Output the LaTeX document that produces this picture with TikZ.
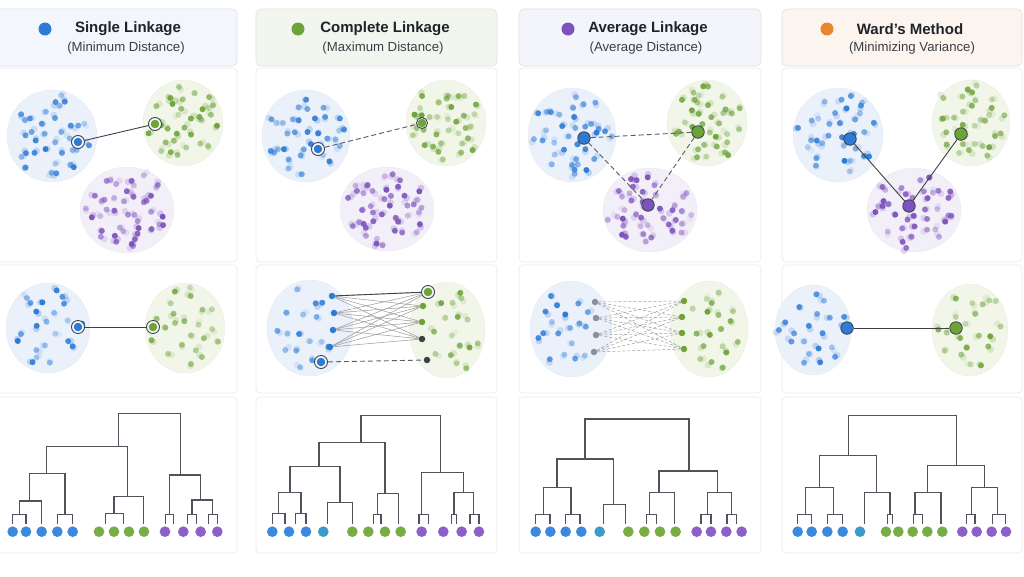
\documentclass[tikz,border=0pt]{standalone}
\usepackage{fontspec}
\setmainfont{Liberation Sans}
\definecolor{cblue}{HTML}{2E7BD6}
\definecolor{cgreen}{HTML}{6EA33A}
\definecolor{cpurple}{HTML}{7D52BE}
\definecolor{corange}{HTML}{E9852C}
\definecolor{dk}{HTML}{3C4148}
\definecolor{tblue}{HTML}{EAF1FB}
\definecolor{tgreen}{HTML}{F1F6E9}
\definecolor{tpurple}{HTML}{F3EFF9}
\definecolor{hblue}{HTML}{F3F6FC}
\definecolor{hgreen}{HTML}{F3F6EF}
\definecolor{hpurple}{HTML}{F4F4FB}
\definecolor{horange}{HTML}{FCF5EF}
\definecolor{pborder}{HTML}{E6E9ED}
\definecolor{hborder}{HTML}{DCE2EA}
\definecolor{lblue}{HTML}{3A89DE}
\definecolor{lteal}{HTML}{3A9BC8}
\definecolor{lgreen}{HTML}{78AD45}
\definecolor{lpurple}{HTML}{8D5FC9}
\definecolor{gpt}{HTML}{8A9099}
\definecolor{ttl}{HTML}{1F2328}
\definecolor{sub}{HTML}{3A3F45}
\newcommand\clusterpts[7]{%
  \pgfmathsetseed{#7}%
  \foreach \k in {1,...,#6}{%
    \pgfmathsetmacro\ang{\k*137.508+#7*23+50*rnd}%
    \pgfmathsetmacro\rr{0.9*sqrt((\k-0.4)/#6)+0.08*(rnd-0.5)}%
    \pgfmathsetmacro\op{0.3+0.7*rnd}%
    \pgfmathsetmacro\opb{0.28*\op}%
    \pgfmathsetmacro\dx{7*rnd-3.5}%
    \pgfmathsetmacro\dy{7*rnd-3.5}%
    \pgfmathsetmacro\px{#1+#3*\rr*cos(\ang)}%
    \pgfmathsetmacro\py{#2+#4*\rr*sin(\ang)}%
    \fill[#5, opacity=\opb] (\px+\dx,\py+\dy) circle[radius=3.4];%
    \fill[#5, opacity=\op] (\px,\py) circle[radius=3.0];%
  }%
}
\newcommand\blob[5]{\fill[#5] (#1,#2) ellipse[x radius=#3, y radius=#4];
  \draw[#5!70!gray!60, line width=0.4pt, opacity=0.5] (#1,#2) ellipse[x radius=#3, y radius=#4];}
\def\LL{386}
\newcommand\dbar[5]{\draw[dend] (#1,#2) -- (#1,#5) -- (#3,#5) -- (#3,#4);}
\newcommand\leaves[2]{\foreach \q in {#1}{\fill[#2] (\q,410) circle[radius=16];}}
\tikzset{
  panel/.style={draw=pborder, line width=0.6pt, fill=white, rounded corners=4pt},
  hbox/.style={draw=hborder, line width=0.6pt, fill=#1, rounded corners=5pt},
  keyring/.style={circle, draw=dk, line width=0.9pt, fill=white, minimum size=13pt, inner sep=0pt,
     path picture={\fill[#1] (path picture bounding box.center) circle[radius=4.3pt];}},
  keybig/.style={circle, draw=dk, line width=0.8pt, fill=#1, minimum size=12.5pt, inner sep=0pt},
  dotpt/.style={circle, fill=#1, minimum size=6.5pt, inner sep=0pt},
  link/.style={draw=dk, line width=0.9pt},
  dlink/.style={draw=dk!85, line width=0.9pt, dash pattern=on 5pt off 3pt},
  thin/.style={draw=black!40, line width=0.5pt},
  dthin/.style={draw=black!38, line width=0.5pt, dash pattern=on 3pt off 2pt},
  dend/.style={draw=dk!90, line width=1.2pt},
  ttext/.style={font=\fontsize{15}{18}\selectfont\bfseries, text=ttl},
  stext/.style={font=\fontsize{13.2}{16}\selectfont, text=sub},
}
\begin{document}
\begin{tikzpicture}[x=1pt, y=-1pt]
\useasboundingbox (0,0) rectangle (1024,576);
\fill[white] (0,0) rectangle (1024,576);
% headers
\draw[hbox=hblue] (-6,9) rectangle (237,66);
\draw[hbox=hgreen] (256,9) rectangle (497,66);
\draw[hbox=hpurple] (519,9) rectangle (761,66);
\draw[hbox=horange] (782,9) rectangle (1022,66);
\fill[cblue] (45,29) circle[radius=6.5];
\fill[cgreen] (298,29) circle[radius=6.5];
\fill[cpurple] (568,29) circle[radius=6.5];
\fill[corange] (827,29) circle[radius=6.5];
\node[ttext] (t1) at (128,29) {Single Linkage};
\node[stext] (s1) at (126,48) {(Minimum Distance)};
\node[ttext] (t2) at (385,29) {Complete Linkage};
\node[stext] (s2) at (383,48) {(Maximum Distance)};
\node[ttext] (t3) at (648,29) {Average Linkage};
\node[stext] (s3) at (646,48) {(Average Distance)};
\node[ttext] (t4) at (910,29) {Ward’s Method};
\node[stext] (s4) at (912,48) {(Minimizing Variance)};
% panels
\foreach \a/\b in {-6/237, 256/497, 519/761, 782/1022}{
  \draw[panel] (\a,68) rectangle (\b,262);
  \draw[panel] (\a,265) rectangle (\b,393);
  \draw[panel] (\a,397) rectangle (\b,553);
}
% ===== top row =====
% col1
\blob{52}{136}{45}{46}{tblue}\blob{183}{123}{40}{43}{tgreen}\blob{127}{210}{47}{43}{tpurple}
\clusterpts{52}{136}{45}{46}{cblue}{34}{11}
\clusterpts{183}{123}{40}{43}{cgreen}{34}{12}
\clusterpts{127}{210}{47}{43}{cpurple}{42}{13}
\node[keyring=cblue] (b1) at (78,142) {};
\node[keyring=cgreen] (g1) at (155,124) {};
\draw[link] (b1) -- (g1);
% col2
\blob{306}{136}{44}{46}{tblue}\blob{446}{123}{40}{43}{tgreen}\blob{387}{209}{47}{42}{tpurple}
\clusterpts{306}{136}{44}{46}{cblue}{34}{21}
\clusterpts{446}{123}{40}{43}{cgreen}{34}{22}
\clusterpts{387}{209}{47}{42}{cpurple}{42}{23}
\node[keyring=cblue] (b2) at (318,149) {};
\node[keyring=cgreen, minimum size=11pt] (g2) at (422,123) {};
\draw[dlink] (b2) -- (g2);
% col3
\blob{572}{135}{44}{47}{tblue}\blob{707}{123}{40}{43}{tgreen}\blob{650}{210}{47}{42}{tpurple}
\clusterpts{572}{135}{44}{47}{cblue}{34}{31}
\clusterpts{707}{123}{40}{43}{cgreen}{34}{32}
\clusterpts{650}{210}{47}{42}{cpurple}{40}{33}
\node[keybig=cblue] (b3) at (584,138) {};
\node[keybig=cgreen] (g3) at (698,132) {};
\node[keybig=cpurple] (p3) at (648,205) {};
\draw[dlink] (b3) -- (g3);
\draw[dlink] (b3) -- (p3);
\draw[dlink] (g3) -- (p3);
% col4
\blob{838}{135}{45}{47}{tblue}\blob{971}{123}{39}{43}{tgreen}\blob{914}{210}{47}{42}{tpurple}
\clusterpts{838}{135}{45}{47}{cblue}{32}{41}
\clusterpts{971}{123}{39}{43}{cgreen}{32}{42}
\clusterpts{914}{210}{47}{42}{cpurple}{38}{43}
\node[keybig=cblue] (b4) at (850,139) {};
\node[keybig=cgreen] (g4) at (961,134) {};
\node[keybig=cpurple] (p4) at (909,206) {};
\draw[link] (b4) -- (p4);
\draw[link] (p4) -- (g4);
% ===== middle row =====
% col1
\blob{48}{328}{42}{45}{tblue}\blob{185}{328}{40}{45}{tgreen}
\clusterpts{48}{328}{42}{45}{cblue}{22}{51}
\clusterpts{185}{328}{40}{45}{cgreen}{22}{52}
\node[keyring=cblue] (mb1) at (78,327) {};
\node[keyring=cgreen] (mg1) at (153,327) {};
\draw[link] (mb1) -- (mg1);
% col2
\blob{310}{328}{43}{48}{tblue}\blob{447}{330}{38}{48}{tgreen}
\clusterpts{302}{328}{34}{46}{cblue}{16}{61}
\clusterpts{455}{330}{30}{46}{cgreen}{16}{62}
\node[dotpt=cblue] (L1) at (332,296) {};
\node[dotpt=cblue] (L2) at (334,313) {};
\node[dotpt=cblue] (L3) at (333,330) {};
\node[dotpt=cblue] (L4) at (330,347) {};
\node[keyring=cblue] (L5) at (321,362) {};
\node[keyring=cgreen] (R1) at (428,292) {};
\node[dotpt=cgreen] (R2) at (423,306) {};
\node[dotpt=cgreen] (R3) at (422,322) {};
\node[dotpt=dk] (R4) at (422,339) {};
\node[dotpt=dk] (R5) at (427,360) {};
\foreach \i in {1,...,4}{\foreach \j in {1,...,4}{\draw[thin] (L\i) -- (R\j);}}
\draw[link] (L1) -- (R1);
\draw[dlink] (L5) -- (R5);
% col3
\blob{571}{329}{41}{48}{tblue}\blob{709}{329}{39}{48}{tgreen}
\clusterpts{565}{329}{32}{46}{cblue}{18}{71}
\clusterpts{716}{329}{30}{46}{cgreen}{18}{72}
\node[dotpt=gpt] (M1) at (595,302) {};
\node[dotpt=gpt] (M2) at (596,318) {};
\node[dotpt=gpt] (M3) at (596,335) {};
\node[dotpt=gpt] (M4) at (594,352) {};
\node[dotpt=cgreen] (N1) at (684,301) {};
\node[dotpt=cgreen] (N2) at (682,317) {};
\node[dotpt=cgreen] (N3) at (682,333) {};
\node[dotpt=cgreen] (N4) at (684,349) {};
\foreach \i in {1,...,4}{\foreach \j in {1,...,4}{\draw[dthin] (M\i) -- (N\j);}}
% col4
\blob{813}{330}{38}{45}{tblue}\blob{970}{330}{38}{46}{tgreen}
\clusterpts{813}{330}{38}{45}{cblue}{20}{81}
\clusterpts{970}{330}{38}{46}{cgreen}{20}{82}
\node[keybig=cblue] (mb4) at (847,328) {};
\node[keybig=cgreen] (mg4) at (956,328) {};
\draw[link] (mb4) -- (mg4);
% ===== dendrograms =====
\begin{scope}[shift={(0,395)}, x=0.3333pt, y=-0.3333pt]
\dbar{38}{\LL}{78}{\LL}{358}
\dbar{58}{358}{125}{\LL}{318}
\dbar{172}{\LL}{218}{\LL}{358}
\dbar{88}{318}{195}{358}{236}
\dbar{316}{\LL}{370}{\LL}{355}
\dbar{342}{355}{430}{\LL}{305}
\dbar{140}{236}{382}{305}{155}
\dbar{497}{\LL}{520}{\LL}{358}
\dbar{562}{\LL}{590}{\LL}{358}
\dbar{625}{\LL}{652}{\LL}{358}
\dbar{576}{358}{638}{358}{315}
\dbar{508}{358}{602}{315}{240}
\dbar{355}{155}{542}{240}{55}
\leaves{38,78,125,172,218}{lblue}
\leaves{297,342,387,432}{lgreen}
\leaves{495,550,602,652}{lpurple}
\end{scope}
\begin{scope}[shift={(255,395)}, x=0.3333pt, y=-0.3333pt]
\dbar{52}{\LL}{90}{\LL}{355}
\dbar{122}{\LL}{153}{\LL}{355}
\dbar{70}{355}{138}{355}{292}
\dbar{218}{\LL}{292}{\LL}{322}
\dbar{105}{292}{255}{322}{215}
\dbar{355}{\LL}{378}{\LL}{358}
\dbar{368}{358}{430}{\LL}{295}
\dbar{192}{215}{390}{295}{142}
\dbar{492}{\LL}{520}{\LL}{358}
\dbar{590}{\LL}{605}{\LL}{358}
\dbar{645}{\LL}{672}{\LL}{358}
\dbar{597}{358}{655}{358}{292}
\dbar{500}{358}{625}{292}{232}
\dbar{318}{142}{557}{232}{62}
\leaves{52,102,153}{lblue}
\leaves{205}{lteal}
\leaves{292,340,390,437}{lgreen}
\leaves{500,565,620,672}{lpurple}
\end{scope}
\begin{scope}[shift={(515,395)}, x=0.3333pt, y=-0.3333pt]
\dbar{62}{\LL}{105}{\LL}{358}
\dbar{152}{\LL}{195}{\LL}{358}
\dbar{85}{358}{168}{358}{278}
\dbar{265}{\LL}{332}{\LL}{328}
\dbar{126}{278}{295}{328}{192}
\dbar{395}{\LL}{425}{\LL}{358}
\dbar{403}{358}{478}{\LL}{292}
\dbar{558}{\LL}{588}{\LL}{358}
\dbar{636}{\LL}{665}{\LL}{358}
\dbar{578}{358}{650}{358}{292}
\dbar{432}{292}{607}{292}{228}
\dbar{210}{192}{522}{228}{72}
\leaves{62,106,152,199}{lblue}
\leaves{254}{lteal}
\leaves{340,388,435,482}{lgreen}
\leaves{545,588,634,680}{lpurple}
\end{scope}
\begin{scope}[shift={(775,395)}, x=0.3333pt, y=-0.3333pt]
\dbar{68}{\LL}{110}{\LL}{358}
\dbar{158}{\LL}{203}{\LL}{358}
\dbar{92}{358}{175}{358}{278}
\dbar{338}{\LL}{352}{\LL}{358}
\dbar{268}{\LL}{345}{358}{292}
\dbar{133}{278}{305}{292}{182}
\dbar{415}{\LL}{442}{\LL}{358}
\dbar{420}{358}{498}{\LL}{292}
\dbar{575}{\LL}{600}{\LL}{358}
\dbar{652}{\LL}{692}{\LL}{358}
\dbar{590}{358}{668}{358}{278}
\dbar{458}{292}{628}{278}{212}
\dbar{220}{182}{545}{212}{62}
\leaves{68,110,157,203}{lblue}
\leaves{255}{lteal}
\leaves{333,370,413,457,502}{lgreen}
\leaves{562,605,650,693}{lpurple}
\end{scope}
\end{tikzpicture}
\end{document}
